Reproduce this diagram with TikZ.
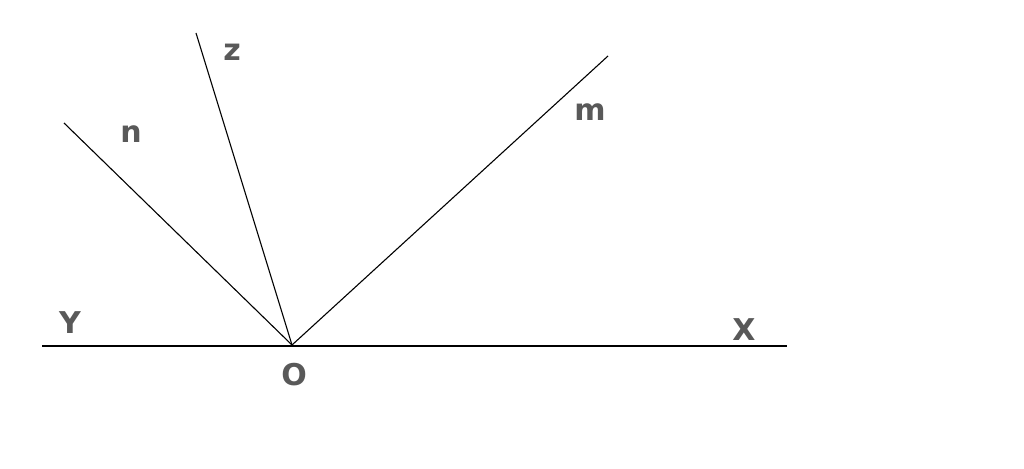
\documentclass[tikz,border=0pt]{standalone}
\usepackage{fontspec}
\setmainfont{DejaVu Sans}
\begin{document}
\begin{tikzpicture}[x=1pt,y=-1pt,
  ray/.style={draw=black,line width=1.1pt},
  lbl/.style={text=black!65,font=\fontsize{30}{32}\selectfont\bfseries,inner sep=0pt}]
\useasboundingbox[fill=white] (0,0) rectangle (1024,468);
\coordinate (O) at (292,345);
\coordinate (Y) at (42,346);
\coordinate (X) at (787,346);
\coordinate (N) at (64,123);
\coordinate (Z) at (196,33);
\coordinate (M) at (608,56);
\draw[ray] (Y) -- (X);
\draw[ray] (O) -- (N);
\draw[ray] (O) -- (Z);
\draw[ray] (O) -- (M);
\node[lbl] (ly) at (70,323) {Y};
\node[lbl] (lx) at (744,330) {X};
\node[lbl] (lo) at (294,375) {O};
\node[lbl] (ln) at (131,134) {n};
\node[lbl] (lz) at (232,52) {z};
\node[lbl] (lm) at (590,112) {m};
\end{tikzpicture}
\end{document}
